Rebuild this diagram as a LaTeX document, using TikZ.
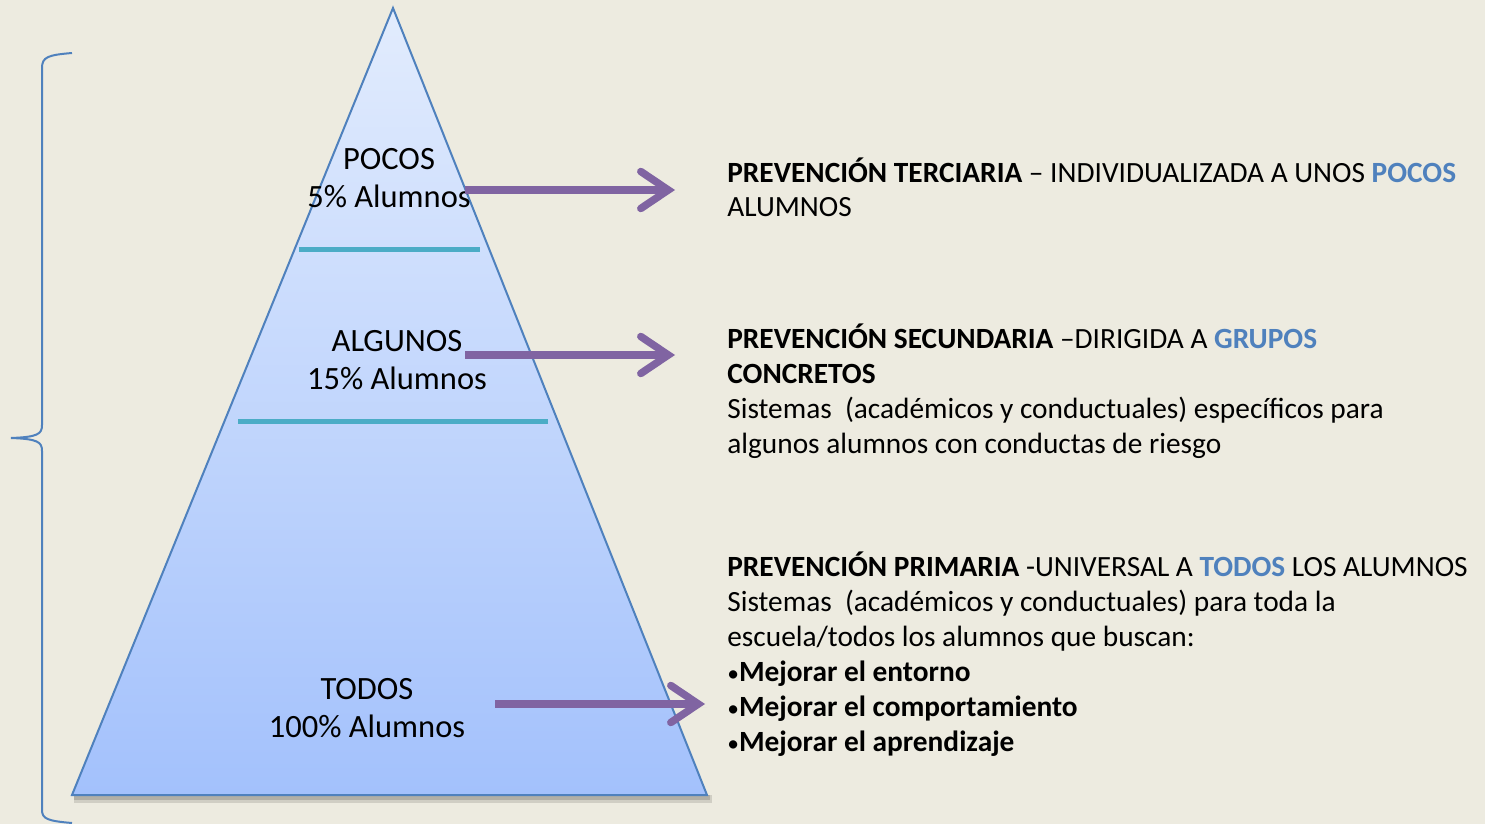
\documentclass[tikz,border=0pt]{standalone}
\usepackage{fontspec}
\setmainfont{Carlito}
\usetikzlibrary{arrows.meta,shadows}
\definecolor{fondo}{HTML}{EDEBE0}
\definecolor{azul}{HTML}{4F81BD}
\definecolor{azultxt}{HTML}{4F81BD}
\definecolor{cima}{HTML}{E2ECFD}
\definecolor{base}{HTML}{A3C1FC}
\definecolor{turquesa}{HTML}{4BACC6}
\definecolor{morado}{HTML}{8064A2}
\newcommand{\punto}{{\scalebox{0.8}{\textbullet}}}
\begin{document}
		\begin{tikzpicture}[x=0.02cm,y=-0.02cm,
			flecha/.style={color=morado,line width=0.15cm,-{Straight Barb[length=0.55cm,width=0.74cm,line cap=round]},
				drop shadow={opacity=0.2,shadow xshift=0.04cm,shadow yshift=-0.06cm}},
			nivel/.style={color=turquesa,line width=0.1cm},
			etiqueta/.style={align=center,font=\fontsize{18.5}{21.5}\selectfont,inner sep=0pt},
			bloque/.style={align=left,anchor=base west,font=\fontsize{16.7}{19.9}\selectfont,inner sep=0pt}]
			\useasboundingbox[fill=fondo] (0,0) rectangle (1485,824);
			% piramide
			\fill[black,opacity=0.12] (74,795) -- (712,795) -- (712,803) -- (74,803) -- cycle;
			\fill[black,opacity=0.15] (74,795) -- (710,795) -- (710,800) -- (74,800) -- cycle;
			\shade[top color=cima,bottom color=base,draw=azul,line width=0.04cm] (393,8) -- (707,795) -- (72,795) -- cycle;
			\draw[nivel] (299,250) -- (480,250);
			\draw[nivel] (238,421) -- (548,421);
			% llave
			\draw[color=azul,line width=0.04cm] (72,53) .. controls (48,55) and (42,57) .. (42,68) -- (42,425)
				.. controls (42,434) and (38,437) .. (11,438) .. controls (38,439) and (42,442) .. (42,451)
				-- (42,810) .. controls (42,819) and (48,821) .. (72,823);
			% etiquetas
			\node[etiqueta] (pocos) at (389,178) {POCOS\\5\% Alumnos};
			\node[etiqueta] (algunos) at (397,360) {ALGUNOS\\15\% Alumnos};
			\node[etiqueta] (todos) at (367,708) {TODOS\\100\% Alumnos};
			% textos
			\node[bloque] (terciaria) at (727,217) {\textbf{PREVENCIÓN TERCIARIA} -- INDIVIDUALIZADA A UNOS \textbf{\color{azultxt}POCOS}\\ALUMNOS};
			\node[bloque] (secundaria) at (727,453) {\textbf{PREVENCIÓN SECUNDARIA} --DIRIGIDA A \textbf{\color{azultxt}GRUPOS}\\\textbf{CONCRETOS}\\Sistemas\ \ (académicos y conductuales) específicos para\\algunos alumnos con conductas de riesgo};
			\node[bloque] (primaria) at (727,751) {\textbf{PREVENCIÓN PRIMARIA} -UNIVERSAL A \textbf{\color{azultxt}TODOS} LOS ALUMNOS\\Sistemas\ \ (académicos y conductuales) para toda la\\escuela/todos los alumnos que buscan:\\\punto\textbf{Mejorar el entorno}\\\punto\textbf{Mejorar el comportamiento}\\\punto\textbf{Mejorar el aprendizaje}};
			% flechas
			\coordinate (p1) at (465,190);
			\coordinate (q1) at (675,190);
			\coordinate (p2) at (465,355);
			\coordinate (q2) at (675,355);
			\coordinate (p3) at (495,704);
			\coordinate (q3) at (705,704);
			\draw[flecha] (p1) -- (q1);
			\draw[flecha] (p2) -- (q2);
			\draw[flecha] (p3) -- (q3);
		\end{tikzpicture}
\end{document}
